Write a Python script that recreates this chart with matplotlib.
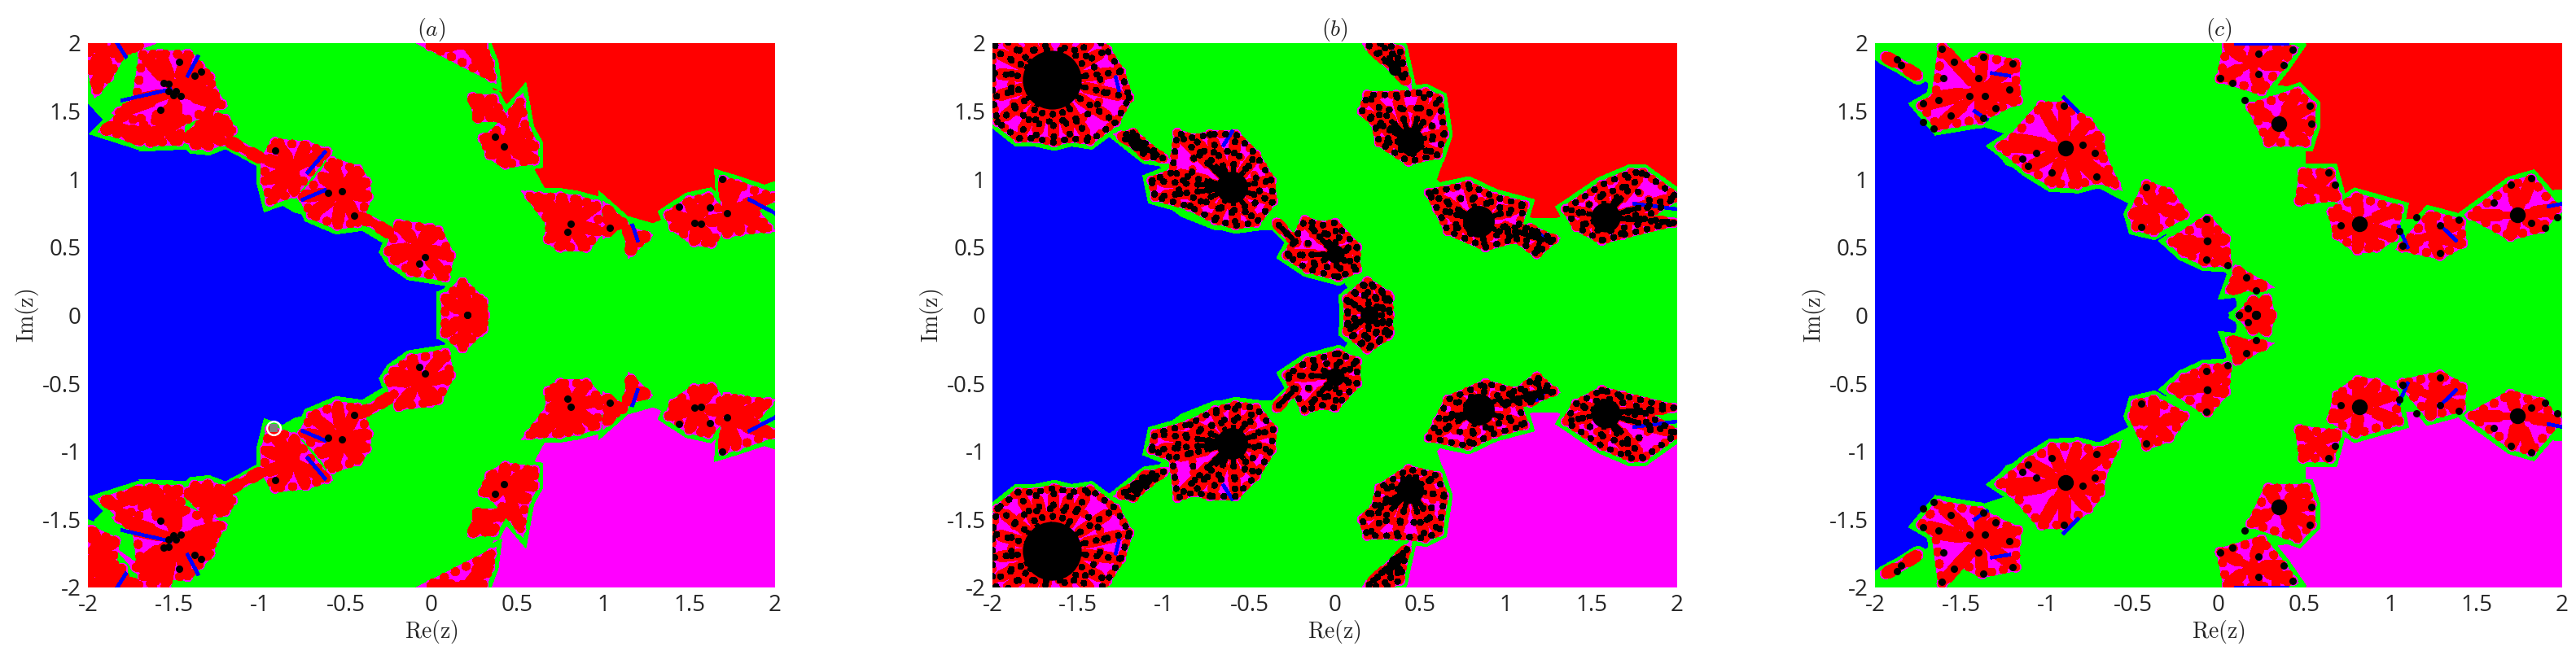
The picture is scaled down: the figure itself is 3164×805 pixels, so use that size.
import numpy as np
import matplotlib
matplotlib.use("Agg")
import matplotlib.pyplot as plt

plt.rcParams['font.family'] = ['Open Sans', 'DejaVu Sans']
plt.rcParams['mathtext.fontset'] = 'cm'

BLUE, RED, GREEN, PINK = '#0000ff', '#ff0000', '#00ff00', '#ff00ff'
ticks = [-2, -1.5, -1, -0.5, 0, 0.5, 1, 1.5, 2]
tick_labels = ['-2', '-1.5', '-1', '-0.5', '0', '0.5', '1', '1.5', '2']
titles = ['$(a)$', '$(b)$', '$(c)$']

# basin outlines, upper half plane only (lower half is the mirror image)
blue_a = [(-2, 1.55), (-1.82, 1.3), (-1.6, 1.24), (-1.36, 1.2), (-1.19, 1.27), (-0.98, 1.1), (-1.0, 0.9),
          (-0.8, 0.75), (-0.45, 0.65), (-0.25, 0.5), (-0.25, 0.42), (-0.1, 0.3), (0.09, 0.25), (0.08, 0.05), (0.08, 0)]
blue_b = [(-2, 1.42), (-1.9, 1.3), (-1.65, 1.24), (-1.43, 1.25), (-1.3, 1.38), (-1.1, 1.2), (-1.0, 1.05),
          (-1.07, 0.88), (-0.9, 0.72), (-0.7, 0.62), (-0.37, 0.62), (-0.22, 0.5), (-0.28, 0.42), (-0.15, 0.28),
          (0.05, 0.24), (0.1, 0.15), (0.07, 0.05), (0.07, 0)]
blue_c = [(-2, 1.87), (-1.78, 1.76), (-1.69, 1.7), (-1.73, 1.5), (-1.66, 1.33), (-1.39, 1.39), (-1.18, 1.3),
          (-1.3, 1.2), (-1.24, 1.1), (-1.12, 1.05), (-0.7, 0.93), (-0.5, 0.8), (-0.5, 0.62), (-0.29, 0.59),
          (-0.23, 0.47), (0.04, 0.31), (0.1, 0.1), (0.1, 0)]
red_a = [(0.34, 2), (0.34, 1.73), (0.39, 1.57), (0.57, 1.3), (0.6, 1.08), (0.69, 0.87), (0.96, 0.8), (1.29, 0.68),
         (1.5, 0.8), (1.72, 0.87), (2, 0.99), (2, 2)]
red_b = [(0.35, 2), (0.42, 1.7), (0.55, 1.6), (0.65, 1.4), (0.65, 1.18), (0.6, 1.0), (0.72, 0.87), (1.0, 0.8),
         (1.15, 0.72), (1.3, 0.72), (1.5, 0.82), (1.72, 0.92), (2, 0.95), (2, 2)]
red_c = [(0.43, 2), (0.32, 1.7), (0.49, 1.67), (0.51, 1.3), (0.51, 1.08), (0.66, 0.87), (0.9, 0.8), (1.08, 0.71),
         (1.41, 0.71), (1.59, 0.74), (1.76, 0.9), (2, 0.93), (2, 2)]

# flower-like lobes on the boundary: (hub x, hub y, petal tips)
lobes_a = [
    (-1.49, 1.64, [(-1.42, 1.92), (-1.29, 1.75), (-1.22, 1.55), (-1.27, 1.64), (-1.49, 1.4), (-1.58, 1.34), (-1.82, 1.49),
                   (-1.72, 1.58), (-1.68, 1.92), (-1.35, 1.83), (-1.58, 1.92)]),
    (-1.33, 1.38, [(-1.42, 1.3), (-1.16, 1.36), (-1.3, 1.48), (-1.3, 1.24), (-1.2, 1.44), (-1.38, 1.25), (-1.22, 1.28)]),
    (-1.84, 1.4, [(-1.9, 1.36), (-1.7, 1.28), (-1.62, 1.3), (-1.74, 1.55)]),
    (-1.55, 1.36, [(-1.64, 1.27), (-1.47, 1.28), (-1.6, 1.48), (-1.45, 1.45)]),
    (-1.91, 1.95, [(-1.98, 1.8), (-1.8, 1.93), (-1.95, 1.65), (-2.0, 2.0), (-1.7, 1.98), (-1.88, 1.75)]),
    (-1.09, 1.22, [(-1.18, 1.28), (-0.99, 1.15)]),
    (-0.52, 0.91, [(-0.43, 1.07), (-0.58, 1.13), (-0.37, 0.87), (-0.43, 0.68), (-0.55, 0.66), (-0.7, 0.74), (-0.75, 0.87),
                   (-0.64, 1.02), (-0.38, 0.98)]),
    (-0.79, 1.08, [(-0.91, 1.27), (-0.73, 1.25), (-0.61, 1.2), (-0.97, 0.99), (-0.94, 0.84), (-0.8, 0.9), (-0.97, 1.15)]),
    (-0.34, 0.68, [(-0.42, 0.72), (-0.24, 0.6)]),
    (-0.07, 0.5, [(-0.19, 0.67), (-0.01, 0.64), (0.11, 0.44), (0.08, 0.28), (0.04, 0.62), (-0.22, 0.41), (-0.25, 0.47), (-0.12, 0.32)]),
    (0.2, 0.0, [(0.19, 0.19), (0.3, 0.1), (0.31, 0), (0.28, -0.12), (0.18, -0.24), (0.08, -0.12), (0.08, 0.13)]),
    (0.42, 1.24, [(0.6, 1.25), (0.55, 1.36), (0.52, 1.57), (0.36, 1.33), (0.34, 1.18), (0.43, 1.11), (0.6, 1.14), (0.3, 1.3)]),
    (0.28, 1.51, [(0.24, 1.6), (0.36, 1.59), (0.27, 1.45), (0.42, 1.45)]),
    (0.2, 1.98, [(-0.01, 1.98), (0.3, 1.98), (0.34, 1.85), (0.35, 1.75)]),
    (0.81, 0.67, [(0.63, 0.87), (0.75, 0.87), (0.96, 0.81), (0.98, 0.62), (0.9, 0.5), (0.75, 0.5), (0.69, 0.68), (0.57, 0.88),
                  (0.85, 0.85), (0.68, 0.56)]),
    (1.07, 0.68, [(1.02, 0.78), (1.11, 0.68), (1.02, 0.61)]),
    (1.17, 0.56, [(1.16, 0.47), (1.25, 0.58), (1.14, 0.63)]),
    (1.55, 0.68, [(1.38, 0.74), (1.5, 0.84), (1.61, 0.87), (1.72, 0.71), (1.63, 0.53), (1.41, 0.65), (1.53, 0.54)]),
    (1.72, 0.78, [(1.7, 0.99), (1.78, 0.96), (1.72, 0.6), (1.87, 0.78), (1.99, 0.87), (1.96, 0.64), (1.8, 0.62)]),
]
# only in the lower left corner of panel (a)
lower_a = [
    (-1.5, -1.64, [(-1.64, -1.97), (-1.55, -2.0), (-1.72, -1.85)]),
    (-1.92, -1.72, [(-1.98, -1.58), (-1.86, -1.88), (-1.84, -1.66), (-1.98, -1.9)]),
    (-1.88, -1.93, [(-1.98, -2.0), (-1.8, -1.86), (-1.76, -2.0)]),
]
lobes_b = [
    (-1.655, 1.73, [(-1.95, 2.05), (-1.8, 2.05), (-1.7, 2.05), (-1.55, 2.05), (-1.4, 2.05), (-1.33, 1.95), (-1.25, 1.79), (-1.2, 1.6),
                    (-1.28, 1.42), (-1.43, 1.28), (-1.54, 1.3), (-1.64, 1.27), (-1.75, 1.3), (-1.85, 1.3), (-1.97, 1.42), (-2.0, 1.6),
                    (-2.0, 1.78), (-2.0, 1.95)]),
    (-0.6, 0.94, [(-0.92, 1.34), (-0.82, 1.3), (-0.73, 1.33), (-0.58, 1.33), (-0.46, 1.18), (-0.37, 0.99), (-0.36, 0.84), (-0.46, 0.68),
                  (-0.58, 0.66), (-0.7, 0.7), (-0.85, 0.8), (-1.05, 0.87), (-1.07, 0.99), (-0.95, 1.05)]),
    (-1.16, 1.26, [(-1.25, 1.32), (-1.0, 1.15), (-1.18, 1.34), (-1.1, 1.17)]),
    (-0.28, 0.6, [(-0.34, 0.68), (-0.22, 0.53)]),
    (0.0, 0.45, [(-0.175, 0.7), (-0.08, 0.66), (0.0, 0.68), (0.13, 0.5), (0.13, 0.34), (0.02, 0.28), (-0.16, 0.34), (-0.28, 0.44)]),
    (0.2, 0.0, [(0.19, 0.24), (0.32, 0.13), (0.32, 0), (0.31, -0.15), (0.19, -0.25), (0.07, -0.12), (0.08, 0.11)]),
    (0.44, 1.28, [(0.19, 1.62), (0.36, 1.62), (0.53, 1.64), (0.61, 1.59), (0.64, 1.33), (0.6, 1.18), (0.43, 1.13), (0.26, 1.27),
                  (0.23, 1.42), (0.16, 1.5)]),
    (0.35, 1.81, [(0.28, 2.0), (0.2, 1.98), (0.42, 1.72), (0.38, 1.95)]),
    (0.84, 0.69, [(0.55, 0.9), (0.78, 0.96), (0.93, 0.87), (1.11, 0.81), (1.05, 0.56), (0.88, 0.5), (0.66, 0.62), (0.6, 0.78)]),
    (1.2, 0.56, [(1.18, 0.45), (1.28, 0.56), (1.14, 0.64), (0.97, 0.65)]),
    (1.58, 0.72, [(1.35, 0.78), (1.56, 0.96), (1.73, 1.05), (1.8, 1.05), (1.98, 0.68), (1.8, 0.71), (1.68, 0.59),
                  (1.56, 0.55), (1.41, 0.65), (2.0, 0.87)]),
]
lobes_c = [
    (-0.89, 1.23, [(-1.03, 1.54), (-0.9, 1.54), (-0.76, 1.42), (-0.69, 1.3), (-0.68, 1.18), (-0.6, 0.96), (-0.7, 1.0), (-0.82, 0.96),
                   (-0.97, 0.97), (-1.11, 1.08), (-1.27, 1.24), (-1.2, 1.3)]),
    (-1.39, 1.65, [(-1.61, 1.97), (-1.5, 1.82), (-1.375, 1.9), (-1.18, 1.85), (-1.18, 1.67), (-1.17, 1.58), (-1.3, 1.51), (-1.39, 1.44),
                   (-1.63, 1.39), (-1.73, 1.54), (-1.65, 1.6)]),
    (-1.85, 1.84, [(-1.94, 1.9), (-1.75, 1.76)]),
    (-0.38, 0.79, [(-0.42, 0.96), (-0.29, 0.9), (-0.2, 0.74), (-0.48, 0.65), (-0.38, 0.62), (-0.5, 0.74)]),
    (-0.065, 0.545, [(-0.065, 0.71), (0.04, 0.56), (0.05, 0.38), (-0.08, 0.39), (-0.27, 0.54), (-0.2, 0.46)]),
    (0.16, 0.22, [(0.11, 0.33), (0.26, 0.22), (0.07, 0.19)]),
    (0.22, 0.0, [(0.2, 0.11), (0.31, 0), (0.28, -0.12), (0.13, 0)]),
    (0.35, 1.41, [(0.46, 1.64), (0.54, 1.54), (0.54, 1.39), (0.51, 1.27), (0.29, 1.27), (0.19, 1.53)]),
    (0.19, 1.85, [(0.05, 1.98), (0.23, 2), (0.43, 1.95), (0.37, 1.84), (0.25, 1.65), (0.01, 1.74)]),
    (0.82, 0.67, [(0.66, 0.76), (0.8, 0.87), (1.05, 0.78), (1.02, 0.58), (0.81, 0.48), (0.69, 0.59), (0.92, 0.5)]),
    (0.56, 0.93, [(0.49, 1.05), (0.65, 1.05), (0.47, 0.84), (0.69, 0.87)]),
    (1.23, 0.59, [(1.07, 0.5), (1.23, 0.74), (1.41, 0.68), (1.42, 0.53), (1.29, 0.44)]),
    (1.74, 0.74, [(1.47, 0.74), (1.71, 0.96), (1.82, 1.0), (1.97, 0.78), (1.88, 0.64), (1.7, 0.58)]),
]

# black cores: (x, y, radius in points)
cores_b = [(-1.655, 1.73, 26), (-0.6, 0.94, 14), (0.0, 0.45, 8), (0.2, 0.0, 8), (0.44, 1.28, 12), (0.84, 0.69, 14),
           (1.58, 0.72, 13), (-1.16, 1.26, 6), (0.35, 1.81, 5.5)]
cores_c = [(-0.89, 1.23, 7), (0.35, 1.41, 7), (0.82, 0.67, 7), (1.74, 0.74, 7), (0.22, 0, 4), (-0.065, 0.545, 3.5)]

dots_a = [(-1.47, 1.86), (-1.34, 1.79), (-1.38, 1.76), (-1.56, 1.71), (-1.53, 1.7), (-1.53, 1.65), (-1.49, 1.65),
          (-1.5, 1.62), (-1.46, 1.61), (-1.58, 1.51), (-0.91, 1.21), (-0.6, 0.9), (-0.52, 0.91), (-0.45, 0.73),
          (-0.07, 0.38), (-0.04, 0.43), (0.21, 0), (0.37, 1.31), (0.42, 1.24), (0.81, 0.67), (0.79, 0.61), (1.04, 0.64),
          (1.44, 0.8), (1.53, 0.68), (1.57, 0.67), (1.62, 0.79), (1.72, 0.75), (1.69, 1.0)]
dots_b = []
dots_c = [(-1.61, 1.96), (-1.87, 1.88), (-1.85, 1.84), (-1.54, 1.86), (-1.6, 1.74), (-1.37, 1.9), (-1.4, 1.74), (-1.2, 1.85),
          (-1.22, 1.66), (-1.45, 1.61), (-1.36, 1.61), (-1.72, 1.56), (-1.63, 1.58), (-1.56, 1.47), (-1.3, 1.52), (-1.37, 1.45),
          (-1.72, 1.42), (-1.66, 1.37), (-0.9, 1.54), (-1.14, 1.15), (-1.06, 1.19), (-1.11, 1.1), (-0.97, 1.05), (-0.72, 1.19),
          (-0.79, 1.25), (-0.71, 1.02), (-0.42, 0.94), (-0.45, 0.65), (-0.07, 0.71), (-0.07, 0.41), (0.05, 0.37), (0.16, 0.28),
          (0.12, 0), (0.17, 0.05), (0.22, -0.18), (0.23, 1.92), (0.01, 1.74), (0.08, 1.71), (0.23, 1.77), (0.15, 1.58),
          (0.43, 1.95), (0.38, 1.84), (0.53, 1.54), (0.54, 1.41), (0.64, 1.05), (0.68, 0.96), (0.71, 0.66), (1.05, 0.62),
          (1.07, 0.51), (1.15, 0.72), (1.29, 0.66), (1.4, 0.7), (1.29, 0.46), (1.7, 0.96), (1.82, 1.01), (1.6, 0.83),
          (1.82, 0.68), (1.9, 0.64), (1.97, 0.72)]

# thin blue threads between petals: (x0, y0, x1, y1)
threads_a = [(-1.8, 1.58, -1.52, 1.66), (-1.42, 1.76, -1.36, 1.9), (-1.83, 2, -1.78, 1.9), (-0.72, 1.05, -0.62, 1.2),
             (-0.75, 0.85, -0.62, 0.92), (1.85, 0.85, 2, 0.75), (1.17, 0.66, 1.2, 0.55)]
threads_b = [(1.75, 0.82, 2, 0.78), (1.18, 0.62, 1.24, 0.55), (-0.65, 1.25, -0.6, 1.35), (-1.28, 1.75, -1.26, 1.65)]
threads_c = [(-1.32, 1.78, -1.22, 1.76), (-1.42, 1.5, -1.35, 1.44), (-0.9, 1.6, -0.82, 1.5), (0.1, 2, 0.4, 2),
             (1.05, 0.65, 1.1, 0.5), (1.92, 0.8, 2, 0.82), (1.3, 0.65, 1.38, 0.55)]

DOT = (0, (0.01, 1.5))


def one_lobe(ax, hub, pts, w, black):
    pts = pts[np.argsort(np.arctan2(pts[:, 1] - hub[1], pts[:, 0] - hub[0]))]
    opts = dict(antialiased=False)
    if len(pts) > 2:
        ring = np.vstack([pts, pts[:1]])
        ax.fill(pts[:, 0], pts[:, 1], fc=GREEN, ec=GREEN, lw=w * 2.1, zorder=2, **opts)
        ax.fill(pts[:, 0], pts[:, 1], fc=PINK, ec=PINK, lw=w * 0.9, zorder=3, **opts)
        ax.plot(ring[:, 0], ring[:, 1], color=RED, lw=w, ls=DOT, dash_capstyle='round', zorder=5, **opts)
    for tx, ty in pts:
        xs, ys = [hub[0], tx], [hub[1], ty]
        ax.plot(xs, ys, color=GREEN, lw=w * 2.1, solid_capstyle='round', zorder=2, **opts)
        ax.plot(xs, ys, color=PINK, lw=w * 1.3, solid_capstyle='round', zorder=4, **opts)
        ax.plot(xs, ys, color=RED, lw=w * 0.9, solid_capstyle='round', zorder=5, **opts)
        # petals are fatter away from the hub
        mx, my = hub[0] + 0.45 * (tx - hub[0]), hub[1] + 0.45 * (ty - hub[1])
        ex, ey = hub[0] + 0.85 * (tx - hub[0]), hub[1] + 0.85 * (ty - hub[1])
        ax.plot([mx, ex], [my, ey], color=RED, lw=w * 1.5, solid_capstyle='round', zorder=5, **opts)
    if black:
        bd = dict(color='k', dash_capstyle='round', zorder=7, antialiased=False)
        if len(pts) > 2:
            ax.plot(ring[:, 0], ring[:, 1], lw=w * 0.75, ls=(0.8, (0.01, 2.0)), **bd)
            mid = hub + (ring - hub) * 0.68
            ax.plot(mid[:, 0], mid[:, 1], color=RED, lw=w, ls=DOT, dash_capstyle='round', zorder=5, antialiased=False)
            ax.plot(mid[:, 0], mid[:, 1], lw=w * 0.75, ls=(0, (0.01, 2.4)), **bd)
        for tx, ty in pts:
            ax.plot([hub[0], tx], [hub[1], ty], lw=w * 0.72, ls=(0, (0.01, 2.1)), **bd)
            sx, sy = hub[0] + 0.42 * (tx - hub[0]), hub[1] + 0.42 * (ty - hub[1])
            ax.plot([hub[0], sx], [hub[1], sy], color='k', lw=w * 0.55, zorder=7, antialiased=False)


def draw_panel(ax, blue, red, lobes, cores, dots, threads, title, w=7.0, black=False, extra=()):
    ax.set_facecolor(GREEN)
    b = np.array(blue)
    outline = np.vstack([[(-2, 0)], b, b[::-1][1:] * [1, -1]])
    ax.fill(outline[:, 0], outline[:, 1], color=BLUE, lw=0, zorder=1, antialiased=False)
    r = np.array(red)
    ax.fill(r[:, 0], r[:, 1], color=RED, lw=0, zorder=1, antialiased=False)
    ax.fill(r[:, 0], -r[:, 1], color=PINK, lw=0, zorder=1, antialiased=False)
    for hx, hy, tips in extra:
        one_lobe(ax, np.array([hx, hy]), np.array(tips, dtype=float), w, black)
    for sign in (1, -1):
        for hx, hy, tips in lobes:
            one_lobe(ax, np.array([hx, sign * hy]), np.array(tips, dtype=float) * [1, sign], w, black)
        for x0, y0, x1, y1 in threads:
            ax.plot([x0, x1], [sign * y0, sign * y1], color=BLUE, lw=2.5, zorder=6, antialiased=False)
        if dots:
            d = np.array(dots)
            ax.plot(d[:, 0], sign * d[:, 1], 'o', color='k', ms=6.5, mew=0, zorder=8, antialiased=False)
        for x, y, size in cores:
            ax.plot(x, sign * y, 'o', color='k', ms=size * 2, mew=0, zorder=8, antialiased=False)
    ax.set_xlim(-2, 2)
    ax.set_ylim(-2, 2)
    ax.set_xticks(ticks)
    ax.set_xticklabels(tick_labels)
    ax.set_yticks(ticks)
    ax.set_yticklabels(tick_labels)
    ax.tick_params(length=0, labelsize=20, pad=6, colors='#262626')
    for s in ax.spines.values():
        s.set_visible(False)
    ax.set_xlabel(r'$\mathrm{Re(z)}$', fontsize=20, labelpad=1, color='#262626')
    ax.set_ylabel(r'$\mathrm{Im(z)}$', fontsize=20, labelpad=1, color='#262626')
    ax.set_title(title, fontsize=20, pad=5, color='#262626')


W, H = 3164, 805
fig = plt.figure(figsize=(W / 100, H / 100), dpi=100, facecolor='white')
boxes = [(108, 952), (1219, 2060), (2303, 3147)]
top, bottom = 53, 722
axes = [fig.add_axes([l / W, 1 - bottom / H, (r - l) / W, (bottom - top) / H]) for l, r in boxes]

draw_panel(axes[0], blue_a, red_a, lobes_a, [], dots_a, threads_a, titles[0], extra=lower_a)
draw_panel(axes[1], blue_b, red_b, lobes_b, cores_b, dots_b, threads_b, titles[1], w=6.5, black=True)
draw_panel(axes[2], blue_c, red_c, lobes_c, cores_c, dots_c, threads_c, titles[2])

# start point marked in panel (a)
axes[0].plot(-0.92, -0.83, 'o', mfc='none', mec='white', ms=12, mew=1.8, zorder=9)
axes[0].plot(-0.92, -0.83, 's', color='#808080', ms=7, mew=0, zorder=10)

fig.savefig('out.png', dpi=100)
